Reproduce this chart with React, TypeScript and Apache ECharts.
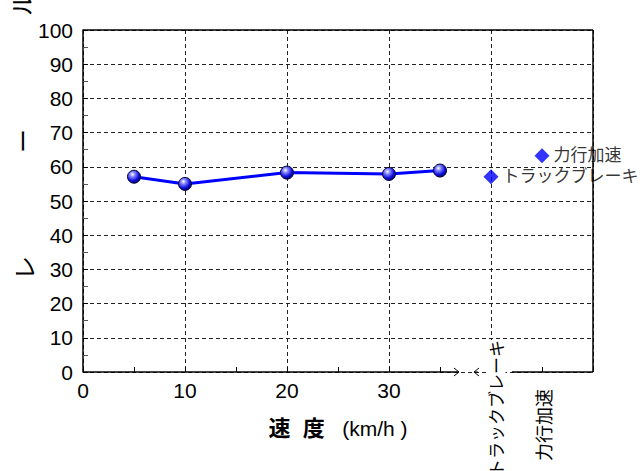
import React, { useEffect, useRef } from 'react';
import * as echarts from 'echarts';

// ---- data ----
const speeds = [5, 10, 20, 30, 35];
const pressures = [57.1, 55.0, 58.3, 57.9, 58.9];
const modeNames = ['トラックブレーキ', '力行加速'];
const modePositions = [40, 45];
const modeValues = [57.1, 63.2];
const xLabelMax = 30;
const xMin = 0;
const xMax = 50;
const yMin = 0;
const yMax = 100;
const yNameChars = ['レ', 'ー', 'ル'];
const xNameText = '{a|速  度}   (km/h )';

const FONT = "Arial, 'Liberation Sans', 'Noto Sans CJK JP', sans-serif";

export default function App() {
  const ref = useRef<HTMLDivElement>(null);
  useEffect(() => {
    document.body.style.margin = '0';
    const chart = echarts.init(ref.current!, null, { renderer: 'svg' });
    const sphere = {
      type: 'radial', x: 0.38, y: 0.32, r: 0.75,
      colorStops: [
        { offset: 0, color: '#ffffff' },
        { offset: 0.25, color: '#8a8aff' },
        { offset: 0.65, color: '#1010e0' },
        { offset: 1, color: '#000050' },
      ],
    };
    chart.setOption({
      animation: false,
      backgroundColor: '#fff',
      grid: { left: 83, top: 30, right: 51, bottom: 99 },
      xAxis: {
        type: 'value', min: xMin, max: xMax, interval: 10,
        axisLine: { show: false },
        axisTick: { show: true, inside: true, length: 5, lineStyle: { color: '#000' } },
        minorTick: { show: true, splitNumber: 2, length: 5, lineStyle: { color: '#000' } },
        axisLabel: {
          fontSize: 21, color: '#000', fontFamily: FONT, margin: 8,
          formatter: (v: number) => (v <= xLabelMax ? String(v) : ''),
        },
        splitLine: { show: true, lineStyle: { color: '#222', type: [4, 3], width: 1 } },
      },
      yAxis: {
        type: 'value', min: yMin, max: yMax, interval: 10,
        axisLine: { show: true, lineStyle: { color: '#000', width: 1.5 } },
        axisTick: { show: true, inside: true, length: 5, lineStyle: { color: '#000' } },
        minorTick: { show: true, splitNumber: 2, length: 5, lineStyle: { color: '#555' } },
        axisLabel: { fontSize: 21, color: '#000', fontFamily: FONT, margin: 10 },
        splitLine: { show: true, lineStyle: { color: '#222', type: [4, 3], width: 1 } },
      },
      series: [
        {
          type: 'line',
          data: speeds.map((s, i) => [s, pressures[i]]),
          symbol: 'circle', symbolSize: 13,
          lineStyle: { color: '#0000ff', width: 3 },
          itemStyle: { color: sphere, borderColor: '#000033', borderWidth: 1 },
          z: 5,
        },
        {
          type: 'scatter',
          data: modePositions.map((p, i) => ({ value: [p, modeValues[i]], name: modeNames[i] })),
          symbol: 'diamond', symbolSize: 15,
          itemStyle: { color: '#0000ff' },
          label: {
            show: true, position: 'right', distance: 4, formatter: '{b}',
            fontSize: 17, color: '#000', fontFamily: FONT,
          },
          z: 5,
        },
      ],
    });

    const px = (x: number, y: number) => chart.convertToPixel({ gridIndex: 0 }, [x, y]) as number[];
    const origin = px(xMin, yMin);
    const topRight = px(xMax, yMax);
    const bottomRight = px(xMax, yMin);
    const topLeft = px(xMin, yMax);
    const ay = origin[1];
    const breakStart = origin[0] + 376; // left part of broken axis ends here
    const breakEnd = origin[0] + 429; // right part resumes here
    const black = { stroke: '#000', lineWidth: 1.5 };
    const elements: any[] = [
      { type: 'line', shape: { x1: origin[0], y1: ay, x2: breakStart, y2: ay }, style: black, z: 10 },
      { type: 'line', shape: { x1: breakEnd, y1: ay, x2: bottomRight[0], y2: ay }, style: black, z: 10 },
      { type: 'polyline', shape: { points: [[breakStart - 5, ay - 4], [breakStart, ay], [breakStart - 5, ay + 4]] }, style: { stroke: '#000', lineWidth: 1, fill: null }, z: 10 },
      { type: 'polyline', shape: { points: [[breakStart + 20, ay - 4], [breakStart + 15, ay], [breakStart + 20, ay + 4]] }, style: { stroke: '#000', lineWidth: 1, fill: null }, z: 10 },
      { type: 'line', shape: { x1: breakStart + 15, y1: ay, x2: breakStart + 19, y2: ay }, style: { stroke: '#000', lineWidth: 1 }, z: 10 },
      { type: 'rect', shape: { x: breakStart + 21, y: ay - 7, width: breakEnd - breakStart - 21, height: 6 }, style: { fill: '#fff' }, z: 8 },
      { type: 'line', shape: { x1: topLeft[0], y1: topLeft[1], x2: topRight[0], y2: topRight[1] }, style: black, z: 10 },
      { type: 'line', shape: { x1: topRight[0], y1: topRight[1], x2: bottomRight[0], y2: bottomRight[1] }, style: black, z: 10 },
      {
        type: 'text', x: (origin[0] + bottomRight[0]) / 2, y: ay + 56, z: 10,
        style: {
          text: xNameText, fontSize: 21, fontFamily: FONT, fill: '#000',
          align: 'center', verticalAlign: 'middle',
          rich: { a: { fontSize: 22, fontWeight: 'bold', fontFamily: FONT, fill: '#000' } },
        },
      },
    ];
    const catOffsets = [[6, 36], [3, 53]];
    const catSizes = [17, 18];
    modePositions.forEach((p, i) => {
      const c = px(p, yMin);
      elements.push({
        type: 'text', x: c[0] + catOffsets[i][0], y: c[1] + catOffsets[i][1], rotation: Math.PI / 2, z: 11,
        style: { text: modeNames[i], fontSize: catSizes[i], fontFamily: FONT, fill: '#000', align: 'center', verticalAlign: 'middle', backgroundColor: '#fff' },
      });
    });
    const yNamePos = [[25, 268], [23, 141], [22, 4]];
    yNameChars.forEach((ch, i) => {
      elements.push({
        type: 'text', x: yNamePos[i][0], y: yNamePos[i][1], rotation: Math.PI / 2, z: 10,
        style: { text: ch, fontSize: 24, fontFamily: FONT, fill: '#000', align: 'center', verticalAlign: 'middle' },
      });
    });
    chart.setOption({ graphic: { elements } });
    return () => chart.dispose();
  }, []);
  return <div ref={ref} style={{ position: 'fixed', left: 0, top: 0, width: 644, height: 471 }} />;
}
